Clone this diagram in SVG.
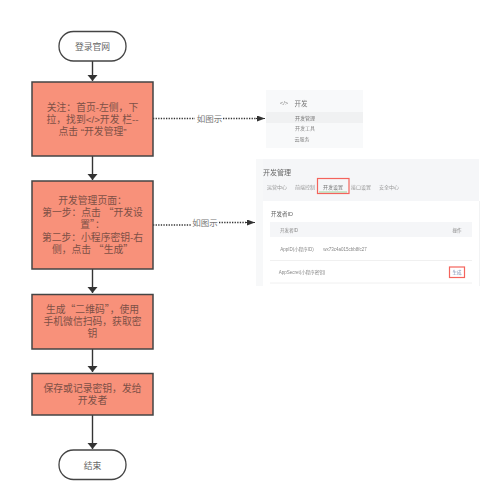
<svg xmlns="http://www.w3.org/2000/svg" width="501" height="500" viewBox="0 0 501 500">
<style>
text{font-family:"Liberation Sans","Noto Sans CJK SC",sans-serif;text-anchor:middle}
.q{font-family:"Noto Sans CJK SC",sans-serif}
.t{font-size:8.800px;fill:#666}
.p{font-size:9.800px;fill:#7d5046}
.box{fill:#f8917a;stroke:#444;stroke-width:1.5}
.term{fill:#fff;stroke:#444;stroke-width:1.3}
.c{fill:none;stroke:#333;stroke-width:1.4}
.d{fill:none;stroke:#333;stroke-width:1.3;stroke-dasharray:1.3 1.3}
.l{font-size:8.500px;fill:#777}
.red{fill:none;stroke:#f4645c;stroke-width:1.2}
.soft{filter:url(#soft)}
</style>
<defs>
<filter id="soft" x="-5%" y="-5%" width="110%" height="110%"><feGaussianBlur stdDeviation="0.35"/></filter>
<marker id="a" markerUnits="userSpaceOnUse" markerWidth="7" markerHeight="11" refX="6" refY="5" orient="auto"><path d="M0 0L6 5L0 10Z" fill="#333"/></marker>
<marker id="b" markerUnits="userSpaceOnUse" markerWidth="9" markerHeight="7" refX="8" refY="3" orient="auto"><path d="M0 0L8 3L0 6Z" fill="#333"/></marker>
</defs>
<g id="connectors">
<path class="c" marker-end="url(#a)" d="M92.500 61V81"/>
<path class="c" marker-end="url(#a)" d="M92.500 156V180"/>
<path class="c" marker-end="url(#a)" d="M92.500 269V293"/>
<path class="c" marker-end="url(#a)" d="M92.500 349V372"/>
<path class="c" marker-end="url(#a)" d="M92.500 415V449"/>
<path class="d" d="M153 118.500H195"/><path class="d" d="M223 118.500H258"/>
<path d="M256 118.500L265 118.500" stroke="#333" marker-end="url(#b)"/>
<path class="d" d="M153 225H191"/><path class="d" d="M219 222.500H246"/>
<path d="M246 222.500L255 222.500" stroke="#333" marker-end="url(#b)"/>
<text class="l" x="209.500" y="122">如图示</text>
<text class="l" x="205" y="226">如图示</text>
</g>
<g id="start"><rect class="term" x="59" y="31.500" width="67" height="29.500" rx="14.500"/><text class="t" x="92.500" y="50">登录官网</text></g>
<g id="step1"><rect class="box" x="32" y="82" width="121" height="74"/>
<text class="p" x="92.500" y="111">关注：首页-左侧，下</text><text class="p" x="92.500" y="123">拉，找到&lt;/&gt;开发 栏--</text><text class="p" x="92.500" y="135">点击 “开发管理”</text></g>
<g id="step2"><rect class="box" x="32" y="181" width="121" height="88"/>
<text class="p" x="92.500" y="204">开发管理页面：</text><text class="p" x="92.500" y="216">第一步：点击 <tspan class="q">“</tspan>开发设</text><text class="p" x="92.500" y="228">置<tspan class="q">”</tspan>：</text><text class="p" x="92.500" y="241">第二步：小程序密钥-右</text><text class="p" x="92.500" y="253">侧，点击 <tspan class="q">“</tspan>生成<tspan class="q">”</tspan></text></g>
<g id="step3"><rect class="box" x="32" y="294.500" width="121" height="54.500"/>
<text class="p" x="92.500" y="313">生成<tspan class="q">“</tspan>二维码<tspan class="q">”</tspan>，使用</text><text class="p" x="92.500" y="325">手机微信扫码，获取密</text><text class="p" x="92.500" y="337">钥</text></g>
<g id="step4"><rect class="box" x="32" y="373.500" width="121" height="41.500"/>
<text class="p" x="92.500" y="392">保存或记录密钥，发给</text><text class="p" x="92.500" y="404">开发者</text></g>
<g id="end"><rect class="term" x="59" y="450" width="67" height="29.500" rx="14.500"/><text class="t" x="92.500" y="468.500">结束</text></g>
<g id="shot1" class="soft">
<rect x="266" y="90" width="97" height="58" fill="#f8f9fa"/>
<rect x="266" y="112" width="97" height="11" fill="#f0f1f2"/>
<text x="284" y="105" style="font-size:6px;fill:#888">&lt;/&gt;</text>
<text x="301" y="105.500" style="font-size:6.500px;fill:#777">开发</text>
<text x="305" y="120" style="font-size:5px;fill:#777">开发管理</text>
<text x="305" y="130" style="font-size:5px;fill:#888">开发工具</text>
<text x="302" y="141" style="font-size:5px;fill:#888">云服务</text>
</g>
<g id="shot2" class="soft">
<rect x="256" y="159" width="223" height="42" fill="#f5f6f8"/>
<rect x="256" y="201" width="223" height="85" fill="#fff"/>
<rect x="256" y="159" width="7" height="127" fill="#f7f8f9"/>
<path d="M479.500 201V286" stroke="#f2f3f4"/>
<text x="277" y="175" style="font-size:7px;fill:#666">开发管理</text>
<text x="277" y="189" style="font-size:5px;fill:#999">运营中心</text>
<text x="305" y="189" style="font-size:5px;fill:#999">前端控制</text>
<text x="333" y="189" style="font-size:5px;fill:#777">开发设置</text>
<text x="361" y="189" style="font-size:5px;fill:#999">接口设置</text>
<text x="389" y="189" style="font-size:5px;fill:#999">安全中心</text>
<path d="M319 192H347" stroke="#9fd69f"/>
<rect class="red" x="317.500" y="178.500" width="31.500" height="15"/>
<text x="282" y="216" style="font-size:5.500px;fill:#666">开发者ID</text>
<rect x="270" y="222" width="202" height="15" fill="#f5f6f8"/>
<text x="289" y="231.500" style="font-size:4.500px;fill:#888">开发者ID</text>
<text x="457" y="231.500" style="font-size:4.500px;fill:#888">操作</text>
<text x="297" y="250.500" style="font-size:4.500px;fill:#888">AppID(小程序ID)</text>
<text x="345" y="250.500" style="font-size:4.500px;fill:#888">wx73c4a015cbb8fc27</text>
<path d="M270 260.500H472M270 283H472" stroke="#f0f0f0"/>
<text x="302" y="273.500" style="font-size:4.500px;fill:#888">AppSecret(小程序密钥)</text>
<text x="457" y="273.500" style="font-size:4.500px;fill:#7a8bb0">生成</text>
<rect class="red" x="449.500" y="267" width="15" height="10.500"/>
</g>
</svg>
